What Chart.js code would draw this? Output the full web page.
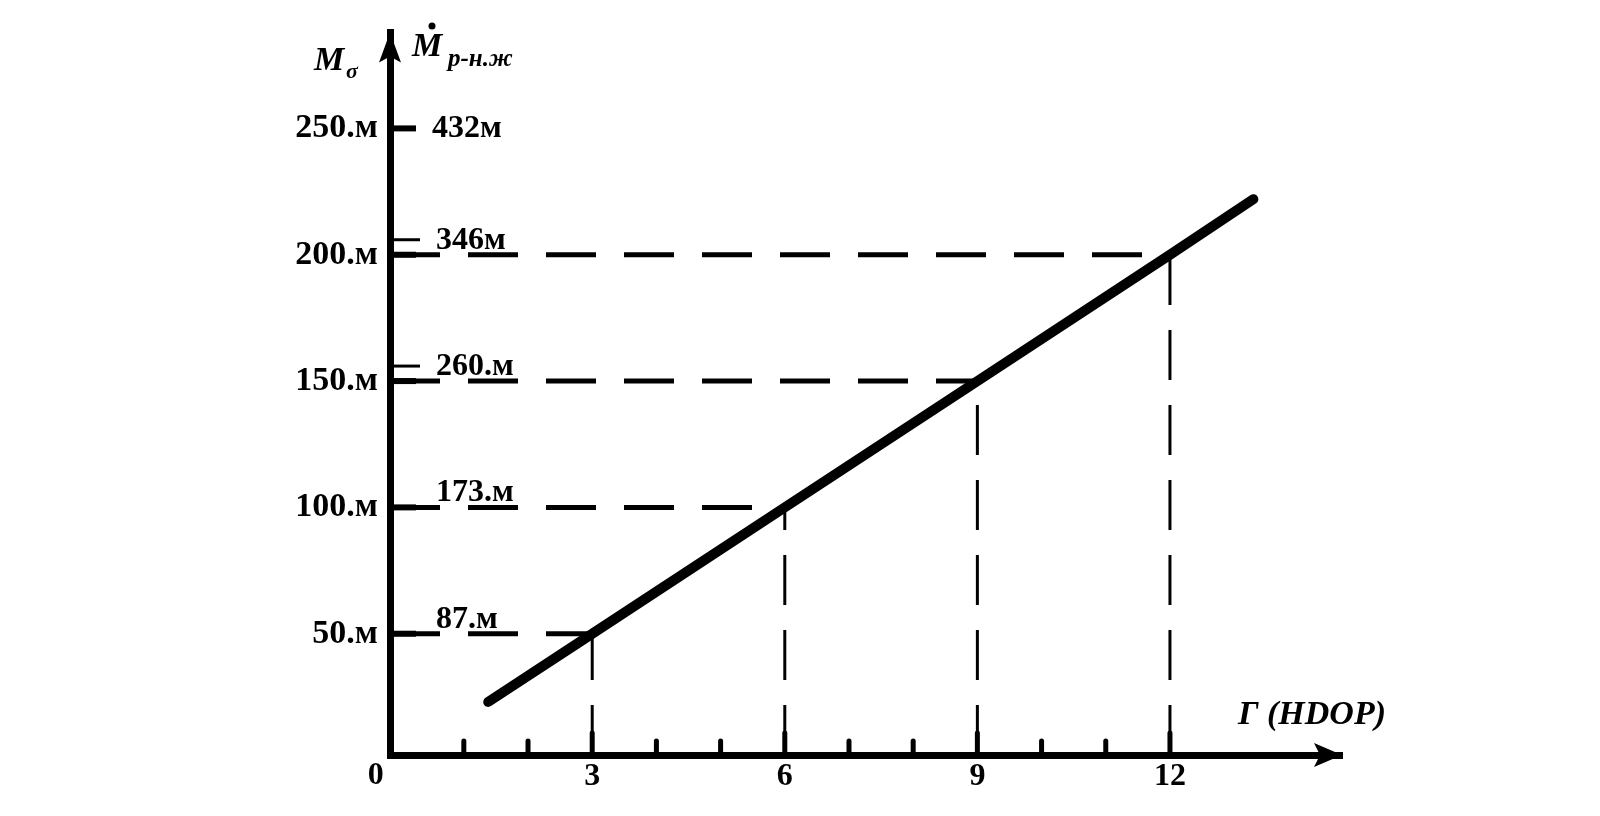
<!DOCTYPE html>
<html>
<head>
<meta charset="utf-8">
<script src="https://cdn.jsdelivr.net/npm/chart.js@4.4.1/dist/chart.umd.min.js"></script>
<style>
  html, body { margin: 0; padding: 0; background: #fff; }
  #wrap { width: 1600px; height: 816px; }
</style>
</head>
<body>
<div id="wrap"><canvas id="c" width="1600" height="816"></canvas></div>
<script>
// ---- data ----
const xTicks = [3, 6, 9, 12];
const xTickLabels = ['3', '6', '9', '12'];
const xMinorTicks = [1, 2, 4, 5, 7, 8, 10, 11];
const yTicks = [50, 100, 150, 200, 250];
const leftLabels = ['50.м', '100.м', '150.м', '200.м', '250.м'];
const rightLabels = ['87.м', '173.м', '260.м', '346м', '432м'];
const doubleStubTicks = [150, 200];
const lineX = [1.38, 3, 6, 9, 12, 13.3];
const lineY = [23, 50, 100, 150, 200, 222];
const guideX = [3, 6, 9, 12];
const guideY = [50, 100, 150, 200];

const X_MIN = -0.15, X_MAX = 14.68, Y_MIN = 2, Y_MAX = 288;
const SERIF = '"Liberation Serif", "DejaVu Serif", serif';

const datasets = [];
datasets.push({
  data: lineX.map((x, i) => ({ x, y: lineY[i] })),
  showLine: true, borderColor: '#000', borderWidth: 10, borderCapStyle: 'round',
  pointRadius: 0, order: 0
});
guideX.forEach((gx, i) => {
  datasets.push({
    data: [{ x: X_MIN, y: guideY[i] }, { x: gx, y: guideY[i] }],
    showLine: true, borderColor: '#000', borderWidth: 5, borderDash: [50, 28],
    pointRadius: 0, order: 1
  });
  datasets.push({
    data: [{ x: gx, y: Y_MIN }, { x: gx, y: guideY[i] }],
    showLine: true, borderColor: '#000', borderWidth: 3, borderDash: [50, 25],
    pointRadius: 0, order: 1
  });
});

const decor = {
  id: 'decor',
  afterDatasetsDraw(chart) {
    const ctx = chart.ctx;
    const xs = chart.scales.x, ys = chart.scales.y;
    const ca = chart.chartArea;
    ctx.save();
    ctx.fillStyle = '#000';
    ctx.strokeStyle = '#000';
    // y arrow
    ctx.beginPath();
    ctx.moveTo(ca.left, ca.top);
    ctx.lineTo(ca.left - 11, ca.top + 30);
    ctx.lineTo(ca.left, ca.top + 24);
    ctx.lineTo(ca.left + 11, ca.top + 30);
    ctx.closePath();
    ctx.fill();
    // x arrow
    ctx.beginPath();
    ctx.moveTo(ca.right, ca.bottom);
    ctx.lineTo(ca.right - 28, ca.bottom - 12);
    ctx.lineTo(ca.right - 22, ca.bottom);
    ctx.lineTo(ca.right - 28, ca.bottom + 12);
    ctx.closePath();
    ctx.fill();
    // minor ticks on x axis
    ctx.lineWidth = 5;
    ctx.lineCap = 'round';
    xMinorTicks.forEach(v => {
      const px = xs.getPixelForValue(v);
      ctx.beginPath();
      ctx.moveTo(px, ca.bottom);
      ctx.lineTo(px, ca.bottom - 14);
      ctx.stroke();
    });
    xTicks.forEach(v => {
      const px = xs.getPixelForValue(v);
      ctx.beginPath();
      ctx.moveTo(px, ca.bottom);
      ctx.lineTo(px, ca.bottom - 22);
      ctx.stroke();
    });
    ctx.lineCap = 'butt';
    // y stubs
    yTicks.forEach(v => {
      const py = ys.getPixelForValue(v);
      ctx.lineWidth = 6;
      ctx.beginPath();
      ctx.moveTo(ca.left, py);
      ctx.lineTo(ca.left + 26, py);
      ctx.stroke();
      if (doubleStubTicks.includes(v)) {
        ctx.lineWidth = 3;
        ctx.beginPath();
        ctx.moveTo(ca.left, py - 15);
        ctx.lineTo(ca.left + 30, py - 15);
        ctx.stroke();
      }
    });
    // right-side labels
    ctx.font = 'bold 32px ' + SERIF;
    ctx.textAlign = 'left';
    yTicks.forEach((v, i) => {
      const py = ys.getPixelForValue(v);
      if (v === 250) {
        ctx.textBaseline = 'middle';
        ctx.fillText(rightLabels[i], ca.left + 42, py);
      } else {
        ctx.textBaseline = 'alphabetic';
        ctx.fillText(rightLabels[i], ca.left + 46, py - 6);
      }
    });
    // "0" at origin
    ctx.textBaseline = 'top';
    ctx.textAlign = 'center';
    ctx.font = 'bold 32px ' + SERIF;
    ctx.fillText('0', xs.getPixelForValue(0) - 24, ca.bottom + 5);
    // axis titles
    ctx.textAlign = 'left';
    ctx.textBaseline = 'alphabetic';
    ctx.font = 'italic bold 34px ' + SERIF;
    ctx.fillText('M', 314, 70);
    ctx.font = 'italic bold 22px ' + SERIF;
    ctx.fillText('σ', 346, 78);
    ctx.font = 'italic bold 34px ' + SERIF;
    ctx.fillText('M', 412, 56);
    ctx.beginPath();
    ctx.arc(432, 26, 3.5, 0, Math.PI * 2);
    ctx.fill();
    ctx.font = 'italic bold 25px ' + SERIF;
    ctx.fillText('р-н.ж', 448, 66);
    ctx.font = 'italic bold 34px ' + SERIF;
    ctx.fillText('Г (HDOP)', 1238, 724);
    ctx.restore();
  }
};

new Chart(document.getElementById('c'), {
  type: 'scatter',
  data: { datasets },
  options: {
    responsive: false,
    animation: false,
    layout: { padding: { left: 0, top: 31, right: 258, bottom: 0 } },
    plugins: { legend: { display: false }, tooltip: { enabled: false }, title: { display: false } },
    scales: {
      x: {
        type: 'linear', min: X_MIN, max: X_MAX,
        grid: { display: false, drawTicks: false },
        border: { display: true, color: '#000', width: 7 },
        afterBuildTicks: (s) => { s.ticks = xTicks.map(v => ({ value: v })); },
        afterFit: (s) => { s.height = 61; },
        ticks: {
          autoSkip: false, maxRotation: 0, padding: 3, color: '#000',
          font: { family: SERIF, size: 32, weight: 'bold' },
          callback: (v) => { const i = xTicks.indexOf(v); return i >= 0 ? xTickLabels[i] : ''; }
        }
      },
      y: {
        type: 'linear', min: Y_MIN, max: Y_MAX,
        grid: { display: false, drawTicks: false },
        border: { display: true, color: '#000', width: 7 },
        afterBuildTicks: (s) => { s.ticks = yTicks.map(v => ({ value: v })); },
        afterFit: (s) => { s.width = 390; },
        ticks: {
          autoSkip: false, padding: 12, color: '#000',
          font: { family: SERIF, size: 34, weight: 'bold' },
          callback: (v) => { const i = yTicks.indexOf(v); return i >= 0 ? leftLabels[i] : ''; }
        }
      }
    }
  },
  plugins: [decor]
});
</script>
</body>
</html>
